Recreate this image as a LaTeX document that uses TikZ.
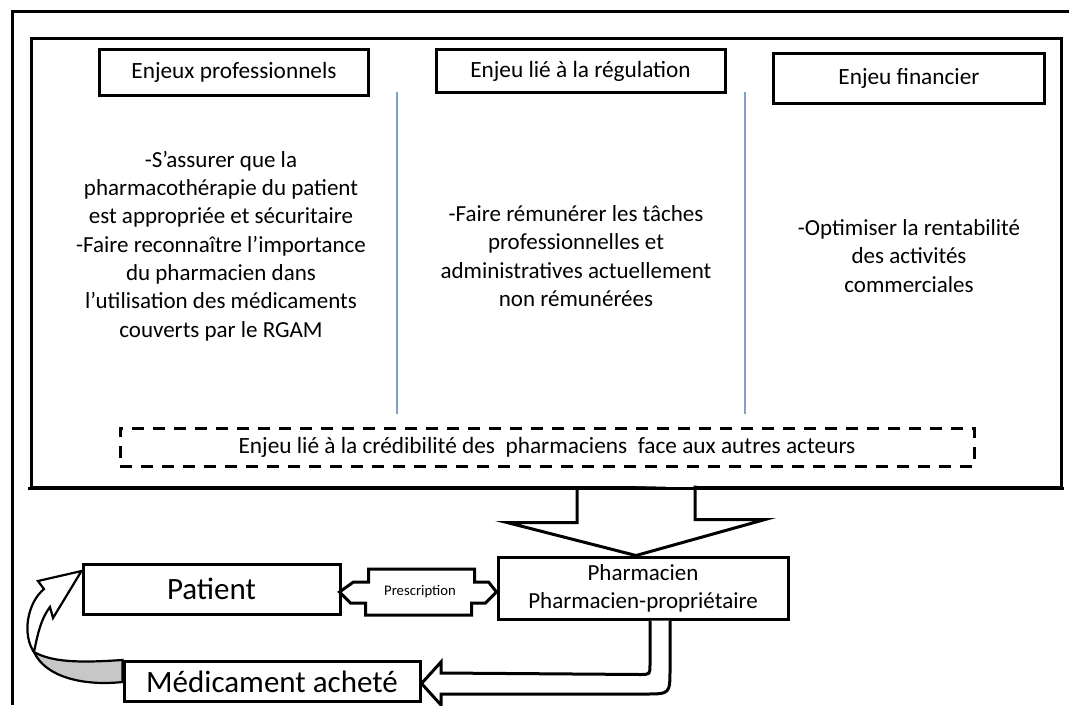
\documentclass[tikz,border=0pt]{standalone}
\usepackage{fontspec}
\setmainfont{Carlito}
\begin{document}
\begin{tikzpicture}[x=1pt,y=-1pt,
  heavy/.style={draw=black, line width=3pt},
  box/.style={heavy, fill=white, inner sep=0pt, align=center},
  hdr/.style={box, font=\fontsize{23.3}{28}\selectfont},
  body/.style={align=center, inner sep=0pt, font=\fontsize{23}{28.3}\selectfont},
  big/.style={box, font=\fontsize{31}{36}\selectfont},
  mid/.style={box, font=\fontsize{23}{28}\selectfont},
  sep/.style={draw={rgb,255:red,125;green,160;blue,205}, line width=1.5pt},
  arrowshape/.style={heavy, fill=white, line join=miter},
  thinarrow/.style={draw=black, line width=2.2pt, line join=miter}
]
\useasboundingbox (0,0) rectangle (1069,705);
\fill[white] (0,0) rectangle (1069,705);

% open outer frame
\draw[heavy] (12,705) -- (12,11) -- (1069,11);

% main panel
\node[heavy, inner sep=0pt, minimum width=1030pt, minimum height=449pt] (main) at (546,262.5) {};

% column headers
\node[hdr, minimum width=269pt, minimum height=46pt] (h1) at (234,72.5) {Enjeux professionnels};
\node[hdr, minimum width=289pt, minimum height=43pt] (h2) at (580.5,71) {Enjeu lié à la régulation};
\node[hdr, minimum width=271pt, minimum height=50pt] (h3) at (909,78) {Enjeu financier};

% column separators
\coordinate (s1a) at (397,92);  \coordinate (s1b) at (397,414);
\coordinate (s2a) at (745,92);  \coordinate (s2b) at (745,414);
\draw[sep] (s1a) -- (s1b);
\draw[sep] (s2a) -- (s2b);

% column contents
\node[body] (c1) at (221,246) {-S’assurer que la\\pharmacothérapie du patient\\est appropriée et sécuritaire\\-Faire reconnaître l’importance\\du pharmacien dans\\l’utilisation des médicaments\\couverts par le RGAM};
\node[body] (c2) at (576,256) {-Faire rémunérer les tâches\\professionnelles et\\administratives actuellement\\non rémunérées};
\node[body] (c3) at (909,256) {-Optimiser la rentabilité\\des activités\\commerciales};

% shared issue
\node[heavy, dash pattern=on 12pt off 9pt, inner sep=0pt, minimum width=854pt, minimum height=38pt,
      font=\fontsize{23.3}{28}\selectfont] (cred) at (547,447) {Enjeu lié à la crédibilité des\ \ pharmaciens\ \ face aux autres acteurs};

% actors
\node[mid, minimum width=290pt, minimum height=62pt] (ph) at (643,588) {Pharmacien\\Pharmacien-propriétaire};
\node[big, minimum width=257pt, minimum height=50pt] (patient) at (211.5,589) {Patient};
\node[big, minimum width=296pt, minimum height=40pt] (med) at (272,681.5) {Médicament acheté};

% big arrow from the panel to the pharmacist
\draw[arrowshape] ([xshift=-66pt]ph.north |- main.south) -- ++(0,34) -- ++(-70,0)
  -- ([xshift=-7pt]ph.north) -- ++(129,-36) -- ++(-70,0) -- ++(0,-34);
\draw[heavy, line cap=rect] (main.south west) -- (main.south east);

% prescription double arrow
\draw[arrowshape] (patient.east) ++(-2,3) coordinate (pl)
  (pl) -- ++(14,-10) -- ++(15,0) -- ++(0,-13) -- ++(106,0) -- ++(0,13) -- ++(14,0)
  -- (ph.west |- pl) -- ++(-11,11) -- ++(-14,0) -- ++(0,12) -- ++(-106,0) -- ++(0,-12) -- ++(-15,0) -- cycle;
\node[font=\fontsize{14.7}{17}\selectfont, inner sep=0pt] (presc) at (420,592) {Prescription};

% U-turn arrow from the pharmacist to the purchased drug
\coordinate (ua) at ([xshift=7pt]ph.south);
\coordinate (ub) at ([xshift=27pt]ph.south);
\draw[arrowshape] (ua) -- ++(0,44) .. controls +(0,10) .. ++(-10,10) -- (441,673) -- (441,662)
  -- (med.east |- 0,683.5) -- (441,705) -- (441,694) -- (645,694)
  .. controls (ub |- 0,694) .. (ub |- 0,669) -- (ub);

% curved arrow from the purchased drug back to the patient
\draw[thinarrow, fill=black!22] (34,652) .. controls (55,664) and (90,662) .. (med.west |- 0,660)
  -- (med.west |- 0,682) .. controls (85,686) and (46,678) .. (34,652) -- cycle;
\draw[thinarrow, fill=white] (34,652) .. controls (22,635) and (27,603) .. (44,589) -- (38,581)
  -- (patient.west |- 0,571) -- (53,618) -- (50,607) .. controls (40,620) and (37,638) .. (34,652) -- cycle;
\end{tikzpicture}
\end{document}
